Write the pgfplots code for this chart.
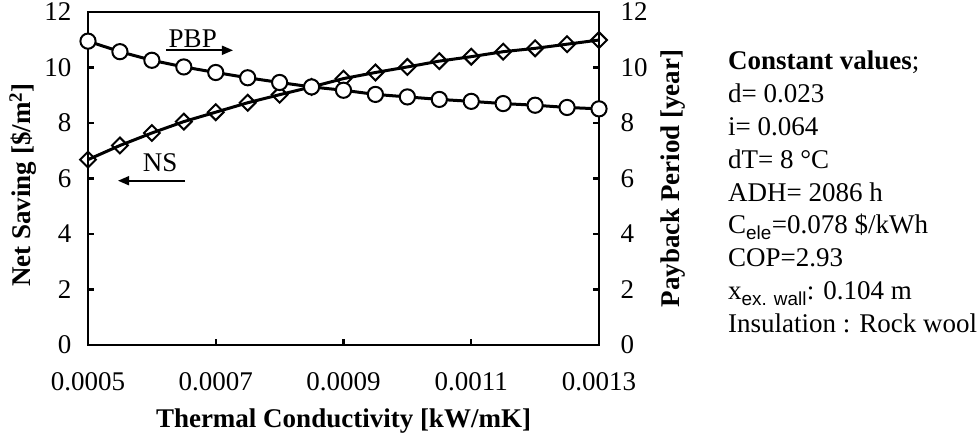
\documentclass[border=0pt]{standalone}
\usepackage{fontspec}
\setmainfont{Liberation Serif}
\newfontfamily\subfont{Liberation Sans}
\usepackage{pgfplots}
\pgfplotsset{compat=1.18}
\usetikzlibrary{arrows.meta}

% Net saving (left axis) and payback period (right axis)
\pgfplotstableread{
k        ns     pbp
0.00050  6.68   10.95
0.00055  7.19   10.57
0.00060  7.64   10.26
0.00065  8.05   10.02
0.00070  8.39   9.82
0.00075  8.73   9.63
0.00080  9.02   9.46
0.00085  9.30   9.30
0.00090  9.60   9.18
0.00095  9.82   9.03
0.00100  10.02  8.94
0.00105  10.23  8.85
0.00110  10.39  8.78
0.00115  10.57  8.70
0.00120  10.69  8.64
0.00125  10.84  8.56
0.00130  10.99  8.51
}\datatable

\pgfplotsset{
  base/.style={
    scale only axis, width=511pt, height=333pt,
    xmin=0.0005, xmax=0.0013, ymin=0, ymax=12,
    ytick={0,2,...,12},
    axis line style={line width=2.8pt},
    major tick style={line width=2.2pt, black},
    major tick length=6pt,
    tick align=inside,
    /pgf/number format/assume math mode=true,
    ticklabel style={font=\fontsize{27}{27}\selectfont},
    label style={font=\fontsize{27}{27}\selectfont\bfseries},
  },
}

\begin{document}
\begin{tikzpicture}
\begin{axis}[base,
  xtick={0.0005,0.0007,0.0009,0.0011,0.0013},
  xticklabels={0.0005,0.0007,0.0009,0.0011,0.0013},
  scaled x ticks=false,
  xtick pos=bottom, ytick pos=left,
  xticklabel style={yshift=-24pt},
  yticklabel style={xshift=-13pt},
  xlabel={Thermal Conductivity [kW/mK]},
  xlabel style={at={([yshift=-76pt]axis description cs:0.5,0)}, anchor=center},
  ylabel={Net Saving [\$/m\textsuperscript{2}]},
  ylabel style={at={([xshift=-65pt]axis description cs:0,0.48)}, anchor=center},
]
\addplot[black, line width=3pt, mark=square, mark size=5.6pt,
  mark options={rotate=45, fill=white, line width=2pt}]
  table[x=k, y=ns] {\datatable};
\node[anchor=base, font=\fontsize{27}{27}\selectfont] at (axis cs:0.000664,10.72) {PBP};
\draw[line width=1.7pt, -{Triangle[length=11pt,width=9pt]}] (axis cs:0.000622,10.62) -- (axis cs:0.000727,10.62);
\node[anchor=base, font=\fontsize{27}{27}\selectfont] at (axis cs:0.000613,6.27) {NS};
\draw[line width=1.7pt, -{Triangle[length=11pt,width=9pt]}] (axis cs:0.000652,5.92) -- (axis cs:0.000547,5.92);
\end{axis}
\begin{axis}[base,
  axis x line=none,
  axis y line*=right,
  yticklabel style={xshift=18pt},
  ylabel={Payback Period [year]},
  ylabel style={at={([xshift=74pt]axis description cs:1,0.5)}, anchor=center, rotate=0},
]
\addplot[black, line width=3pt, mark=*, mark size=7.6pt,
  mark options={fill=white, line width=2pt}]
  table[x=k, y=pbp] {\datatable};
\end{axis}
\begin{scope}[font=\fontsize{27}{27}\selectfont]
\node[anchor=base west, inner sep=0pt] at (640pt,275pt) {\bfseries Constant values\mdseries;};
\node[anchor=base west, inner sep=0pt] at (640pt,242pt) {d= 0.023};
\node[anchor=base west, inner sep=0pt] at (640pt,209pt) {i= 0.064};
\node[anchor=base west, inner sep=0pt] at (640pt,176pt) {dT= 8 °C};
\node[anchor=base west, inner sep=0pt] at (640pt,143pt) {ADH= 2086 h};
\node[anchor=base west, inner sep=0pt] at (640pt,111pt) {C\textsubscript{\subfont ele}=0.078 \$/kWh};
\node[anchor=base west, inner sep=0pt] at (640pt,78pt) {COP=2.93};
\node[anchor=base west, inner sep=0pt] at (640pt,45pt) {x\textsubscript{\subfont ex. wall}: 0.104 m};
\node[anchor=base west, inner sep=0pt] at (640pt,12pt) {Insulation : Rock wool};
\end{scope}
\pgfresetboundingbox
\useasboundingbox (-88pt,-89pt) rectangle (890pt,345pt);
\end{tikzpicture}
\end{document}
